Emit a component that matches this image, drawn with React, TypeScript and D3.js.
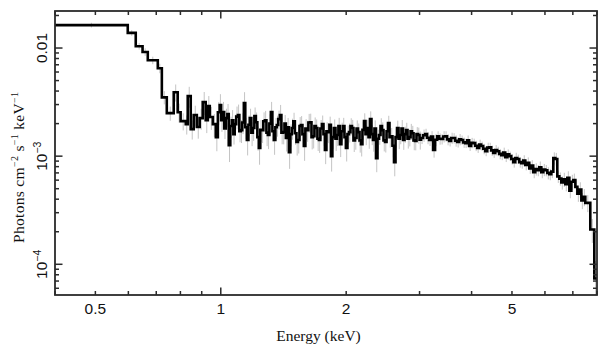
import React from "react";
import * as d3 from "d3";

// Bin edges (keV): low-energy part, 1–3 keV part, 3–8 keV part
const edgesLow = [
  0.4, 0.598, 0.625, 0.649, 0.668, 0.706, 0.722, 0.742, 0.771, 0.788, 0.801, 0.824, 0.833,
  0.847, 0.861, 0.876, 0.89, 0.905, 0.92, 0.931, 0.941, 0.957, 0.973, 0.984, 0.994,
];
const edgesMid = [
  1.002, 1.011, 1.019, 1.028, 1.037, 1.045, 1.054, 1.063, 1.072, 1.08, 1.089, 1.099, 1.108,
  1.117, 1.126, 1.136, 1.145, 1.155, 1.165, 1.174, 1.184, 1.194, 1.204, 1.214, 1.224, 1.234,
  1.244, 1.255, 1.265, 1.276, 1.287, 1.297, 1.308, 1.319, 1.33, 1.341, 1.352, 1.363, 1.374,
  1.386, 1.398, 1.41, 1.422, 1.433, 1.445, 1.457, 1.469, 1.481, 1.493, 1.506, 1.519, 1.532,
  1.545, 1.557, 1.57, 1.583, 1.596, 1.61, 1.623, 1.637, 1.651, 1.664, 1.678, 1.692, 1.706,
  1.72, 1.734, 1.749, 1.764, 1.778, 1.793, 1.808, 1.823, 1.838, 1.853, 1.869, 1.885, 1.9,
  1.916, 1.932, 1.948, 1.965, 1.981, 1.997, 2.014, 2.031, 2.048, 2.065, 2.082, 2.1, 2.118,
  2.135, 2.153, 2.17, 2.188, 2.207, 2.225, 2.244, 2.263, 2.281, 2.3, 2.319, 2.338, 2.358,
  2.378, 2.398, 2.418, 2.438, 2.458, 2.479, 2.5, 2.52, 2.541, 2.562, 2.583, 2.605, 2.627,
  2.649, 2.671, 2.693, 2.715, 2.738, 2.761, 2.784, 2.807, 2.831, 2.855, 2.878, 2.902, 2.926,
  2.95, 2.975, 3.0, 3.025,
];
const edgesHigh = [
  3.059, 3.093, 3.127, 3.162, 3.197, 3.233, 3.269, 3.306, 3.343, 3.38, 3.418, 3.455, 3.493,
  3.533, 3.572, 3.612, 3.652, 3.693, 3.734, 3.775, 3.817, 3.86, 3.903, 3.946, 3.99, 4.035,
  4.08, 4.125, 4.171, 4.217, 4.264, 4.312, 4.36, 4.409, 4.458, 4.507, 4.557, 4.608, 4.659,
  4.712, 4.764, 4.817, 4.871, 4.925, 4.98, 5.035, 5.091, 5.148, 5.205, 5.263, 5.322, 5.381,
  5.441, 5.502, 5.563, 5.623, 5.686, 5.751, 5.815, 5.88, 5.945, 6.011, 6.078, 6.146, 6.214,
  6.284, 6.354, 6.424, 6.496, 6.568, 6.641, 6.715, 6.79, 6.866, 6.942, 7.02, 7.098, 7.177,
  7.257, 7.337, 7.419, 7.499, 7.709, 7.882, 8.0,
];

// Flux per bin (photons cm^-2 s^-1 keV^-1)
const fluxLow = [
  0.0163, 0.0138, 0.0104, 0.0092, 0.0077, 0.0065, 0.0035, 0.0025, 0.0039, 0.00255, 0.00211,
  0.00198, 0.00359, 0.00178, 0.0024, 0.00186, 0.00225, 0.00316, 0.00215, 0.0029, 0.0023,
  0.00198, 0.0015, 0.00255,
];
const fluxMid = [
  0.00297, 0.00215, 0.00256, 0.0018, 0.00225, 0.00245, 0.00126, 0.0019, 0.00215, 0.0016,
  0.00198, 0.00232, 0.0024, 0.0017, 0.00174, 0.00205, 0.0031, 0.00185, 0.00141, 0.00195,
  0.00225, 0.00165, 0.00182, 0.00235, 0.00206, 0.0015, 0.00119, 0.00175, 0.00174, 0.0021,
  0.00215, 0.00165, 0.00157, 0.002, 0.00256, 0.0017, 0.00141, 0.00185, 0.00194, 0.0022,
  0.0024, 0.00165, 0.00167, 0.002, 0.00147, 0.00185, 0.00109, 0.0016, 0.00182, 0.0021,
  0.00163, 0.00135, 0.00141, 0.0019, 0.00194, 0.0016, 0.00124, 0.0018, 0.00174, 0.00205,
  0.00206, 0.0015, 0.00153, 0.0019, 0.00182, 0.00145, 0.00141, 0.0018, 0.00198, 0.0016,
  0.00114, 0.0017, 0.00167, 0.00195, 0.001, 0.0015, 0.00182, 0.00145, 0.00157, 0.0019,
  0.00129, 0.0017, 0.0019, 0.0015, 0.00119, 0.0016, 0.00167, 0.0019, 0.00182, 0.0014,
  0.00147, 0.0018, 0.00167, 0.0014, 0.00129, 0.00175, 0.00211, 0.0016, 0.00182, 0.0015,
  0.0022, 0.0016, 0.00141, 0.0018, 0.00096, 0.00145, 0.00157, 0.0019, 0.00174, 0.0014,
  0.00135, 0.0017, 0.00202, 0.0015, 0.00153, 0.00125, 0.00088, 0.0015, 0.00182, 0.00145,
  0.00157, 0.0018, 0.00141, 0.0016, 0.00174, 0.00145, 0.0015, 0.0017, 0.00163, 0.0014,
  0.00138, 0.0016, 0.00157, 0.00142,
];
const fluxHigh = [
  0.00147, 0.00156, 0.0016, 0.00148, 0.00141, 0.00152, 0.00114, 0.00142, 0.00153, 0.00145,
  0.00144, 0.00152, 0.00153, 0.00143, 0.00138, 0.00147, 0.00147, 0.00139, 0.00135, 0.00143,
  0.00141, 0.00134, 0.00132, 0.0014, 0.00124, 0.00133, 0.00132, 0.00125, 0.00119, 0.00128,
  0.00124, 0.00117, 0.00111, 0.0012, 0.00121, 0.00113, 0.00107, 0.00114, 0.00111, 0.00105,
  0.00102, 0.00108, 0.00098, 0.00104, 0.001, 0.00094, 0.00088, 0.00096, 0.00094, 0.00088,
  0.00086, 0.00091, 0.00083, 0.00087, 0.00077, 0.00082, 0.00071, 0.00076, 0.00074, 0.00079,
  0.00071, 0.00075, 0.00074, 0.0007, 0.00068, 0.00072, 0.00096, 0.00094, 0.00065, 0.00062,
  0.00057, 0.00061, 0.00055, 0.00063, 0.00048, 0.00058, 0.0006, 0.00052, 0.00045, 0.00049,
  0.00039, 0.00042, 0.00037, 0.00021, 0.000074,
];

// Relative 1-sigma errors per bin
const errLow = [
  0.05, 0.06, 0.07, 0.08, 0.08, 0.1, 0.14, 0.15, 0.18, 0.2, 0.18, 0.2, 0.22, 0.2, 0.22, 0.22,
  0.22, 0.24, 0.24, 0.24, 0.24, 0.24, 0.26, 0.24,
];
const errMid = [
  0.26, 0.22, 0.24, 0.2, 0.22, 0.24, 0.3, 0.22, 0.24, 0.2, 0.22, 0.24, 0.25, 0.21, 0.24, 0.22,
  0.26, 0.22, 0.28, 0.22, 0.22, 0.25, 0.24, 0.2, 0.23, 0.25, 0.3, 0.23, 0.24, 0.21, 0.22, 0.25,
  0.26, 0.22, 0.24, 0.2, 0.27, 0.22, 0.22, 0.2, 0.24, 0.22, 0.23, 0.2, 0.25, 0.22, 0.3, 0.23,
  0.22, 0.2, 0.22, 0.25, 0.25, 0.21, 0.21, 0.24, 0.27, 0.22, 0.22, 0.2, 0.2, 0.23, 0.23, 0.2,
  0.2, 0.23, 0.24, 0.2, 0.2, 0.22, 0.26, 0.21, 0.21, 0.19, 0.28, 0.22, 0.2, 0.23, 0.21, 0.19,
  0.24, 0.2, 0.19, 0.22, 0.25, 0.2, 0.2, 0.18, 0.19, 0.22, 0.22, 0.19, 0.2, 0.23, 0.23, 0.19,
  0.18, 0.21, 0.19, 0.22, 0.18, 0.21, 0.22, 0.19, 0.26, 0.21, 0.19, 0.18, 0.18, 0.21, 0.2,
  0.18, 0.17, 0.2, 0.19, 0.22, 0.26, 0.2, 0.17, 0.2, 0.18, 0.2, 0.19, 0.17, 0.17, 0.19, 0.18,
  0.17, 0.17, 0.19, 0.18, 0.16, 0.17, 0.19,
];
const errHigh = [
  0.12, 0.13, 0.12, 0.13, 0.12, 0.12, 0.15, 0.13, 0.11, 0.12, 0.11, 0.12, 0.11, 0.12, 0.11,
  0.12, 0.11, 0.12, 0.11, 0.12, 0.1, 0.11, 0.1, 0.11, 0.1, 0.11, 0.1, 0.11, 0.1, 0.11, 0.1,
  0.11, 0.1, 0.11, 0.1, 0.11, 0.1, 0.11, 0.1, 0.11, 0.1, 0.11, 0.1, 0.11, 0.1, 0.11, 0.11,
  0.12, 0.1, 0.11, 0.11, 0.12, 0.11, 0.12, 0.11, 0.12, 0.12, 0.13, 0.12, 0.13, 0.12, 0.13,
  0.12, 0.13, 0.12, 0.13, 0.13, 0.14, 0.13, 0.14, 0.14, 0.15, 0.14, 0.15, 0.15, 0.16, 0.15,
  0.16, 0.16, 0.17, 0.17, 0.18, 0.18, 0.25, 0.45,
];

const xTickLabels = [0.5, 1, 2, 5];
const xMajor = [1];
const xMinor = [0.4, 0.5, 0.6, 0.7, 0.8, 0.9, 2, 3, 4, 5, 6, 7, 8];
const yMajor = [1e-4, 1e-3, 1e-2];
const yMinor = [
  6e-5, 7e-5, 8e-5, 9e-5, 2e-4, 3e-4, 4e-4, 5e-4, 6e-4, 7e-4, 8e-4, 9e-4, 2e-3, 3e-3, 4e-3,
  5e-3, 6e-3, 7e-3, 8e-3, 9e-3, 2e-2,
];

const W = 609;
const H = 357;
const L = 55, R = 597, T = 11, B = 295;
const AX = "#2b2b2b";

export default function App() {
  const binEdges = [...edgesLow, ...edgesMid, ...edgesHigh];
  const fluxAll = [...fluxLow, ...fluxMid, ...fluxHigh];
  const err = [...errLow, ...errMid, ...errHigh];
  const n = Math.min(fluxAll.length, binEdges.length - 1);
  const flux = fluxAll.slice(0, n);

  const x = d3.scaleLog().domain([0.4, 8]).range([L, R]);
  const y = d3.scaleLog().domain([5.2e-5, 0.022]).range([B, T]);

  const pts: [number, number][] = flux.map((f, i) => [binEdges[i], f]);
  pts.push([binEdges[n], flux[n - 1]]);
  const line = d3
    .line<[number, number]>()
    .x((d) => x(d[0]))
    .y((d) => y(d[1]))
    .curve(d3.curveStepAfter);

  const major = 7.5;
  const minor = 4;

  const sans = "'Liberation Sans', Arial, Helvetica, sans-serif";
  const serif = "'Liberation Serif', 'Times New Roman', serif";

  return (
    <svg width={W} height={H} style={{ position: "absolute", left: 0, top: 0 }}>
      <rect width={W} height={H} fill="#fff" />
      <defs>
        <clipPath id="plot">
          <rect x={L} y={T} width={R - L} height={B - T} />
        </clipPath>
      </defs>
      <g clipPath="url(#plot)">
        {flux.map((f, i) => {
          const e = err[i] ?? 0.2;
          const xc = x(Math.sqrt(binEdges[i] * binEdges[i + 1]));
          return (
            <line
              key={"e" + i}
              x1={xc}
              x2={xc}
              y1={y(f * (1 + e))}
              y2={y(Math.max(f * (1 - e), 1e-6))}
              stroke="#c4c4c4"
              strokeWidth={1}
            />
          );
        })}
        <path d={line(pts) || ""} fill="none" stroke="#000" strokeWidth={2.6} strokeLinejoin="miter" />
      </g>

      {/* frame */}
      <rect x={L} y={T} width={R - L} height={B - T} fill="none" stroke={AX} strokeWidth={1.8} />

      {/* x ticks */}
      {[...xMinor.map((v) => [v, minor]), ...xMajor.map((v) => [v, major])].map(([v, len], i) => (
        <g key={"xt" + i} stroke={AX} strokeWidth={1.5}>
          <line x1={x(v)} x2={x(v)} y1={B} y2={B - len} />
          <line x1={x(v)} x2={x(v)} y1={T} y2={T + len} />
        </g>
      ))}
      {/* y ticks */}
      {[...yMinor.map((v) => [v, minor]), ...yMajor.map((v) => [v, major])].map(([v, len], i) => (
        <g key={"yt" + i} stroke={AX} strokeWidth={1.5}>
          <line x1={L} x2={L + len} y1={y(v)} y2={y(v)} />
          <line x1={R} x2={R - len} y1={y(v)} y2={y(v)} />
        </g>
      ))}

      {/* x tick labels */}
      {xTickLabels.map((v) => (
        <text
          key={"xl" + v}
          x={x(v)}
          y={314}
          textAnchor="middle"
          fontFamily={sans}
          fontSize={15.5}
          fill="#111"
        >
          {String(v)}
        </text>
      ))}

      {/* y tick labels */}
      <text
        transform={`translate(47,${y(1e-2)}) rotate(-90)`}
        textAnchor="middle"
        fontFamily={sans}
        fontSize={15.5}
        fill="#111"
      >
        0.01
      </text>
      {[
        [1e-3, "−3"],
        [1e-4, "−4"],
      ].map(([v, e]) => (
        <text
          key={"yl" + e}
          transform={`translate(47,${y(v as number)}) rotate(-90)`}
          textAnchor="middle"
          fontFamily={sans}
          fontSize={15.5}
          fill="#111"
        >
          10
          <tspan fontSize={10.5} dy={-6.5}>
            {e as string}
          </tspan>
        </text>
      ))}

      {/* axis titles */}
      <text
        x={318.5}
        y={341}
        textAnchor="middle"
        fontFamily={serif}
        fontSize={15.5}
        fill="#111"
      >
        Energy (keV)
      </text>
      <text
        transform={`translate(24,243) rotate(-90)`}
        fontFamily={serif}
        fontSize={15.5}
        fill="#111"
        textLength={151}
        lengthAdjust="spacing"
      >
        Photons cm
        <tspan fontSize={10} dy={-6}>−2</tspan>
        <tspan dy={6}> s</tspan>
        <tspan fontSize={10} dy={-6}>−1</tspan>
        <tspan dy={6}> keV</tspan>
        <tspan fontSize={10} dy={-6}>−1</tspan>
      </text>
    </svg>
  );
}
